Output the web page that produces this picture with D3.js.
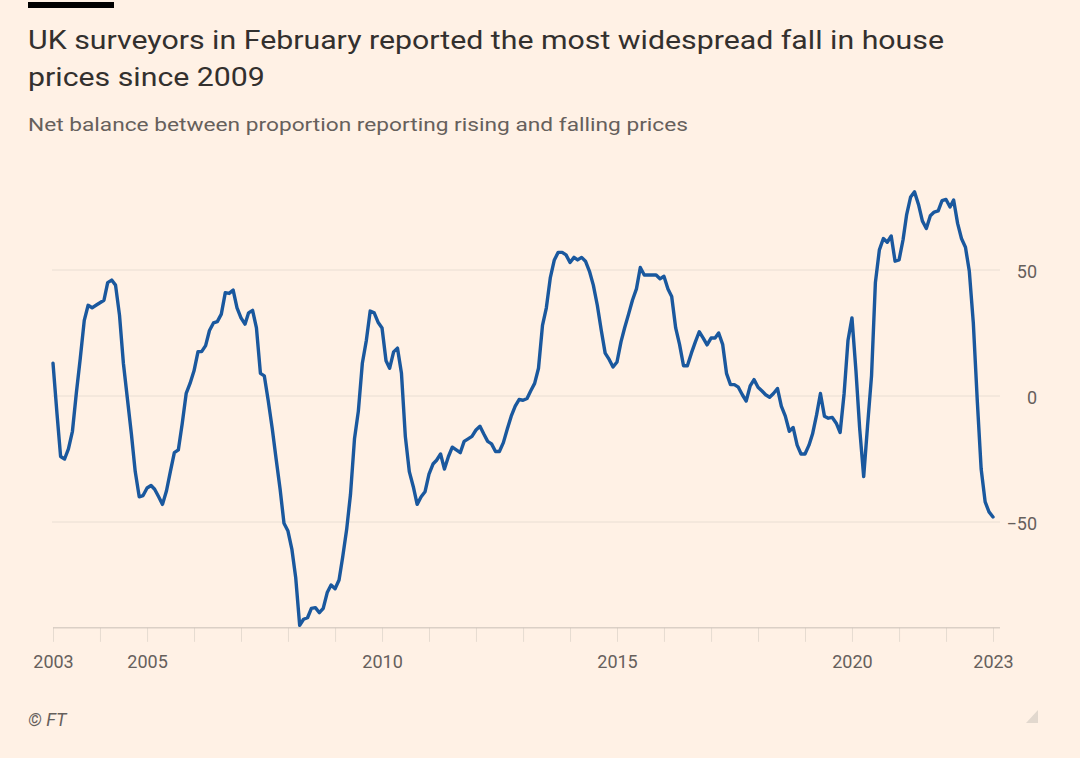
<!DOCTYPE html>
<html>
<head>
<meta charset="utf-8">
<script src="https://cdn.jsdelivr.net/npm/d3@7/dist/d3.min.js"></script>
<style>
  html, body { margin: 0; padding: 0; background: #FFF1E5; }
  svg { display: block; }
</style>
</head>
<body>
<svg id="chart" width="1080" height="758"></svg>
<script>
// ---- Data ----
const titleLines = ["UK surveyors in February reported the most widespread fall in house", "prices since 2009"];
const subtitle = "Net balance between proportion reporting rising and falling prices";
const source = "© FT";
const startYear = 2003; // first monthly observation: January 2003
// Monthly net balance, Jan 2003 .. Jan 2023 (12 values per row)
const values = [
  13, -7, -24, -25, -21, -14, 1, 15, 30, 36, 35, 36,
  37, 38, 45, 46, 44, 32, 13, -1, -15, -30, -40, -39.5,
  -36.5, -35.5, -37, -40, -43, -37.6, -30, -22.5, -21.4, -11, 1, 5,
  10, 17.6, 17.6, 20, 26, 29, 29.5, 32.5, 41, 40.7, 42, 35,
  31, 28.5, 33, 34, 27, 9, 8, -2, -13, -25, -37, -50.5,
  -53.6, -61, -72, -91, -88.6, -88, -84.3, -84, -86, -84.3, -78, -75,
  -76.5, -73, -64, -53, -39, -17, -6, 13, 22, 33.7, 33, 29.3,
  27, 14, 11, 17.5, 19, 9, -16, -30, -36, -43, -40, -38,
  -31, -27, -25.5, -23, -29, -24, -20.3, -21.4, -22.5, -18, -17, -16,
  -13.5, -12, -15, -18, -19, -22, -22, -18.5, -13, -8, -4, -1.4,
  -1.7, -1, 2, 5, 11, 28, 35, 47, 54, 57, 57, 56,
  53, 55, 54, 55, 53.5, 49.5, 44, 36, 26, 17, 14.5, 11.5,
  13.5, 21.5, 27, 32.5, 38, 42.5, 51, 48, 48, 48, 48, 46.5,
  47.5, 42.5, 39.5, 27, 20.5, 12, 12, 17, 21.5, 25.5, 23, 20.3,
  23, 23, 25, 20.5, 9, 4.5, 4.5, 3.5, 0.5, -2, 4, 6.5,
  3.5, 2, 0.5, -0.5, 1, 3, -4, -8, -14, -12.5, -19.5, -23,
  -23, -19.5, -15, -7.5, 1, -8, -8.8, -8.5, -10.8, -14.5, 1, 22,
  31, 10, -13, -32, -12, 8, 45, 58, 62.5, 61, 63.5, 53.5,
  54, 62, 72, 79, 81, 76, 69.5, 66.5, 71.5, 73, 73.5, 77.5,
  78, 75, 77.8, 68.5, 62.5, 59, 49.5, 29, -2, -29, -42, -46,
  -48
];
const yTicks = [50, 0, -50];
const xTickYears = d3.range(2003, 2024);
const xLabelYears = [2003, 2005, 2010, 2015, 2020, 2023];
const yMin = -92;

// ---- Build ----
const series = values.map((v, i) => ({ date: new Date(startYear, i, 1), value: v }));
const svg = d3.select("#chart");
const W = 1080, H = 758;
svg.append("rect").attr("width", W).attr("height", H).attr("fill", "#FFF1E5");

const x = d3.scaleTime()
  .domain([new Date(2003, 0, 1), new Date(2023, 0, 1)])
  .range([53, 993]);
const y = d3.scaleLinear().domain([-50, 50]).range([522, 270]);

// top black bar
svg.append("rect").attr("x", 28).attr("y", 2).attr("width", 86).attr("height", 6).attr("fill", "#000");

// title
const titleFont = "Roboto, 'Open Sans', sans-serif";
const tg = svg.append("g");
titleLines.forEach((t, i) => {
  tg.append("text")
    .attr("x", 28).attr("y", 49 + i * 37)
    .attr("font-family", titleFont)
    .attr("font-size", 25)
    .attr("fill", "#33302e")
    .text(t);
});
// match title width to reference
const natural = tg.select("text").node().getComputedTextLength();
const ratio = 916 / natural;
tg.selectAll("text").each(function() {
  const w = this.getComputedTextLength();
  d3.select(this).attr("textLength", w * ratio).attr("lengthAdjust", "spacingAndGlyphs");
});

svg.append("text")
  .attr("x", 28).attr("y", 131)
  .attr("font-family", titleFont)
  .attr("font-size", 19)
  .attr("fill", "#66605c")
  .attr("textLength", 660).attr("lengthAdjust", "spacingAndGlyphs")
  .text(subtitle);

// gridlines and y labels
const grid = svg.append("g");
grid.selectAll("line").data(yTicks).join("line")
  .attr("x1", 52).attr("x2", 1000)
  .attr("y1", d => y(d)).attr("y2", d => y(d))
  .attr("stroke", "#e9ded3").attr("stroke-width", 1);

const yAxis = d3.axisRight(y).tickValues(yTicks).tickSize(0).tickPadding(0).tickFormat(d3.format("d"));
const yg = svg.append("g").attr("transform", "translate(1037,0)").call(yAxis);
yg.select(".domain").remove();
yg.selectAll("text")
  .attr("text-anchor", "end")
  .attr("x", 0)
  .attr("dy", "0.4em")
  .attr("font-family", titleFont)
  .attr("font-size", 18)
  .attr("fill", "#66605c");

// x axis
const axisY = y(yMin);
const xAxis = d3.axisBottom(x)
  .tickValues(xTickYears.map(yr => new Date(yr, 0, 1)))
  .tickSize(14)
  .tickPadding(13)
  .tickFormat(d => xLabelYears.includes(d.getFullYear()) ? d3.timeFormat("%Y")(d) : "");
const xg = svg.append("g").attr("transform", `translate(0,${axisY})`).call(xAxis);
xg.select(".domain").remove();
xg.append("line").attr("x1", 53).attr("x2", 1000).attr("y1", 0).attr("y2", 0)
  .attr("stroke", "#c9bfb6").attr("stroke-width", 1);
xg.selectAll(".tick line").attr("stroke", "#e6dbd0").attr("stroke-width", 1);
xg.selectAll(".tick text")
  .attr("font-family", titleFont)
  .attr("font-size", 18)
  .attr("fill", "#66605c");

// line
const line = d3.line()
  .x(d => x(d.date))
  .y(d => y(d.value))
  .curve(d3.curveLinear);
svg.append("path")
  .datum(series)
  .attr("d", line)
  .attr("fill", "none")
  .attr("stroke", "#1a589e")
  .attr("stroke-width", 3.4)
  .attr("stroke-linejoin", "round")
  .attr("stroke-linecap", "round");

// source
svg.append("text")
  .attr("x", 28).attr("y", 726)
  .attr("font-family", titleFont)
  .attr("font-style", "italic")
  .attr("font-size", 18)
  .attr("fill", "#66605c")
  .text(source);

// small corner triangle
svg.append("path")
  .attr("d", "M1038,710 L1038,723 L1026,723 Z")
  .attr("fill", "#e2d8ce");
</script>
</body>
</html>
